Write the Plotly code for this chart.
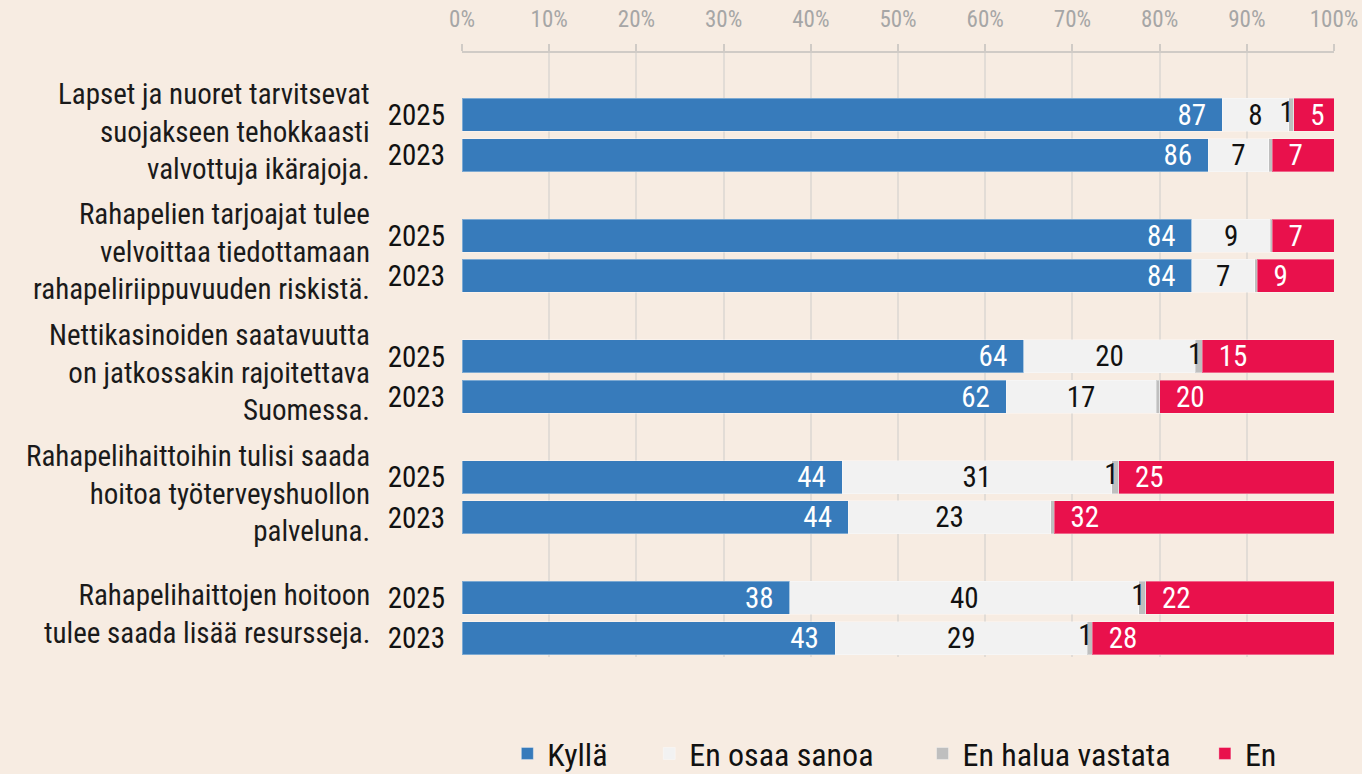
import plotly.graph_objects as go

# statements (one per group, two survey years each)
statements = [
    "Lapset ja nuoret tarvitsevat<br>suojakseen tehokkaasti<br>valvottuja ikärajoja.",
    "Rahapelien tarjoajat tulee<br>velvoittaa tiedottamaan<br>rahapeliriippuvuuden riskistä.",
    "Nettikasinoiden saatavuutta<br>on jatkossakin rajoitettava<br>Suomessa.",
    "Rahapelihaittoihin tulisi saada<br>hoitoa työterveyshuollon<br>palveluna.",
    "Rahapelihaittojen hoitoon<br>tulee saada lisää resursseja.",
]
years = ["2025", "2023"]
x_ticks = [0, 10, 20, 30, 40, 50, 60, 70, 80, 90, 100]

# shares in %, one value per statement
kylla_2025 = [87.2, 83.7, 64.4, 43.6, 37.6]
kylla_2023 = [85.6, 83.7, 62.4, 44.3, 42.8]
eos_2025 = [7.6, 9.0, 19.7, 30.9, 40.0]
eos_2023 = [6.9, 7.2, 17.2, 23.2, 28.9]
ehv_2025 = [0.6, 0.2, 0.8, 0.8, 0.8]
ehv_2023 = [0.4, 0.3, 0.4, 0.4, 0.6]
en_2025 = [4.6, 7.1, 15.1, 24.7, 21.6]
en_2023 = [7.1, 8.8, 20.0, 32.1, 27.7]

FONT = "Liberation Sans Narrow, Roboto Condensed, DejaVu Sans Condensed, Arial Narrow, sans-serif"
BG = "#F7ECE2"
NB = "\u00a0"

# interleave years per statement, leave an empty slot between groups
slots, tick_text = [], []
for g in range(len(statements)):
    for j, yr in enumerate(years):
        slots.append(3 * g + j)
        tick_text.append(yr)


def pair(a, b):
    out = []
    for u, v in zip(a, b):
        out += [u, v]
    return out


kylla = pair(kylla_2025, kylla_2023)
eos = pair(eos_2025, eos_2023)
ehv = pair(ehv_2025, ehv_2023)
en = pair(en_2025, en_2023)

# name, values, colour, text colour, text anchor, label format, legend padding
series = [
    ("Kyllä", kylla, "#377BBB", "white", "end", lambda v: f"{v:.0f}{NB}{NB}", 5),
    ("En osaa sanoa", eos, "#F2F2F2", "#111111", "middle", lambda v: f"{v:.0f}", 6),
    ("En halua vastata", ehv, "#BFBFBF", "#111111", "middle", lambda v: "", 4),
    ("En", en, "#E9114C", "white", "start", lambda v: f"{NB}{NB}{v:.0f}", 0),
]

fig = go.Figure()
for name, vals, color, tcolor, anchor, fmt, pad in series:
    fig.add_trace(go.Bar(
        y=slots, x=vals, name=name + NB * pad, orientation="h", width=0.82,
        marker=dict(color=color, line=dict(color="rgba(255,255,255,0.35)", width=1)),
        text=[fmt(v) for v in vals], textposition="inside", insidetextanchor=anchor,
        textangle=0, constraintext="none",
        textfont=dict(family=FONT, size=29, color=tcolor),
        hovertemplate=name + ": %{x:.0f} %<extra></extra>",
    ))

# "1" labels for the thin grey segment, placed at its right end
ends = [a + b + c for a, b, c in zip(kylla, eos, ehv)]
lab_x = [e for e, v in zip(ends, ehv) if round(v) >= 1]
lab_y = [s for s, v in zip(slots, ehv) if round(v) >= 1]
lab_t = [f"{v:.0f}" for v in ehv if round(v) >= 1]
fig.add_trace(go.Scatter(
    x=lab_x, y=lab_y, text=lab_t, mode="text", textposition="middle left",
    textfont=dict(family=FONT, size=29, color="#111111"),
    showlegend=False, hoverinfo="skip", cliponaxis=False,
))

for g, s in enumerate(statements):
    fig.add_annotation(
        x=-0.103, xref="paper", xanchor="right", y=3 * g + 0.5, yref="y",
        yshift=4, text=s, showarrow=False, align="right",
        font=dict(family=FONT, size=29, color="#1A1A1A"),
    )

fig.update_layout(
    barmode="stack",
    width=1362, height=774,
    paper_bgcolor=BG, plot_bgcolor=BG,
    margin=dict(l=462, r=28, t=53, b=117, autoexpand=False),
    font=dict(family=FONT, color="#111111"),
    legend=dict(
        orientation="h", x=0.052, xanchor="left", y=-0.16, yanchor="middle",
        font=dict(family=FONT, size=32, color="#111111"),
        bgcolor="rgba(0,0,0,0)", traceorder="normal",
    ),
)
fig.update_xaxes(
    side="top", range=[0, 100], tickvals=x_ticks, ticktext=[f"{v}%" for v in x_ticks],
    tickfont=dict(family=FONT, size=23, color="#A6A6A6"), ticklabelstandoff=8,
    ticks="outside", ticklen=7, tickcolor="#D0CBC6", tickwidth=2,
    showline=True, linecolor="#D0CBC6", linewidth=2,
    showgrid=True, gridcolor="#E2DCD6", gridwidth=1.5, zeroline=False,
)
fig.update_yaxes(
    range=[13.47, -1.54], tickvals=slots, ticktext=tick_text,
    tickfont=dict(family=FONT, size=29, color="#111111"),
    ticks="", ticklabelstandoff=16, showgrid=False, zeroline=False, showline=False,
)

fig.write_html("out.html", config={"displayModeBar": False},
               post_script="document.body.style.margin='0';")
